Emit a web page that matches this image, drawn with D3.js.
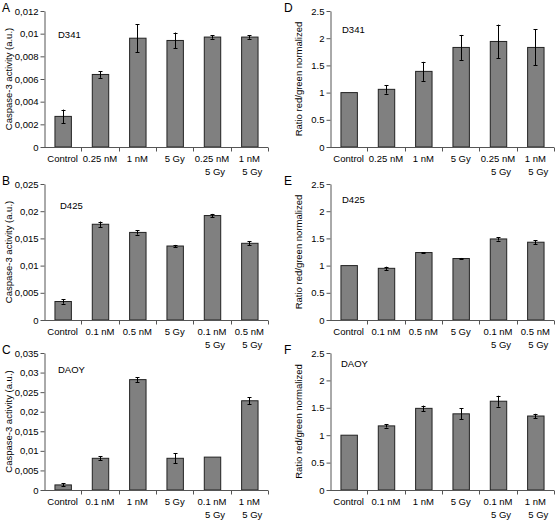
<!DOCTYPE html>
<html><head><meta charset="utf-8">
<script src="https://cdn.jsdelivr.net/npm/d3@7"></script>
<style>body{margin:0;background:#fff}svg{display:block}text{font-family:"Liberation Sans",Arial,sans-serif;fill:#000}</style>
</head><body><svg id="c" width="555" height="520"></svg>
<script>
// ---- data ----
const catsA = ["Control", "0.25 nM", "1 nM", "5 Gy", "0.25 nM|5 Gy", "1 nM|5 Gy"];
const valsA = [0.0027, 0.0064, 0.0096, 0.0094, 0.0097, 0.0097];
const errsA = [0.0006, 0.0003, 0.00125, 0.0007, 0.00015, 0.00015];
const ticksA = [0, 0.002, 0.004, 0.006, 0.008, 0.01, 0.012];

const catsB = ["Control", "0.1 nM", "0.5 nM", "5 Gy", "0.1 nM|5 Gy", "0.5 nM|5 Gy"];
const valsB = [0.0034, 0.0176, 0.0161, 0.0136, 0.0192, 0.0141];
const errsB = [0.0004, 0.0005, 0.0004, 0.0002, 0.0003, 0.0004];
const ticksB = [0, 0.005, 0.01, 0.015, 0.02, 0.025];

const catsC = ["Control", "0.1 nM", "1 nM", "5 Gy", "0.1 nM|5 Gy", "1 nM|5 Gy"];
const valsC = [0.0013, 0.0081, 0.0282, 0.0081, 0.0084, 0.0228];
const errsC = [0.0004, 0.0005, 0.0006, 0.0013, 0, 0.0009];
const ticksC = [0, 0.005, 0.01, 0.015, 0.02, 0.025, 0.03, 0.035];

const catsD = ["Control", "0.25 nM", "1 nM", "5 Gy", "0.25 nM|5 Gy", "1 nM|5 Gy"];
const valsD = [1.0, 1.06, 1.39, 1.83, 1.94, 1.83];
const errsD = [0, 0.08, 0.175, 0.23, 0.31, 0.33];

const catsE = ["Control", "0.1 nM", "0.5 nM", "5 Gy", "0.1 nM|5 Gy", "0.5 nM|5 Gy"];
const valsE = [1.0, 0.95, 1.24, 1.13, 1.49, 1.43];
const errsE = [0, 0.03, 0.01, 0.01, 0.03, 0.04];

const catsF = ["Control", "0.1 nM", "1 nM", "5 Gy", "0.1 nM|5 Gy", "1 nM|5 Gy"];
const valsF = [1.0, 1.17, 1.49, 1.39, 1.62, 1.35];
const errsF = [0, 0.03, 0.05, 0.1, 0.1, 0.04];

const ticksRatio = [0, 0.5, 1, 1.5, 2, 2.5];

const panelLetters = ["A", "B", "C", "D", "E", "F"];
const cellLines = ["D341", "D425", "DAOY", "D341", "D425", "DAOY"];
const yTitles = ["Caspase-3 activity (a.u.)", "Ratio red/green normalized"];

// ---- layout ----
const svg = d3.select("#c");
const cols = [{x0: 44, x1: 268, titleX: 9, letterX: 2}, {x0: 330, x1: 554, titleX: 299, letterX: 284}];
const rows = [{top: 11, bottom: 147, letterY: 12}, {top: 184, bottom: 320, letterY: 185}, {top: 353, bottom: 490, letterY: 354}];
const cellOffsets = [[14, 24], [16, 22], [14, 17], [12, 19], [12, 16], [11, 11]];

const panels = [
  {cats: catsA, vals: valsA, errs: errsA, ticks: ticksA, comma: true},
  {cats: catsB, vals: valsB, errs: errsB, ticks: ticksB, comma: true},
  {cats: catsC, vals: valsC, errs: errsC, ticks: ticksC, comma: true},
  {cats: catsD, vals: valsD, errs: errsD, ticks: ticksRatio, comma: false},
  {cats: catsE, vals: valsE, errs: errsE, ticks: ticksRatio, comma: false},
  {cats: catsF, vals: valsF, errs: errsF, ticks: ticksRatio, comma: false}
];

const axisColor = "#555";
panels.forEach((p, i) => {
  const col = cols[Math.floor(i / 3)], row = rows[i % 3];
  const g = svg.append("g");
  const x = d3.scaleBand().domain(p.cats).range([col.x0, col.x1]).paddingInner(0.56).paddingOuter(0.28);
  const xb = d3.scaleBand().domain(p.cats).range([col.x0, col.x1]);
  const y = d3.scaleLinear().domain([0, d3.max(p.ticks)]).range([row.bottom, row.top]);

  // bars
  g.selectAll("rect.bar").data(p.vals).join("rect")
    .attr("x", (d, j) => x(p.cats[j]) + 0.5).attr("width", x.bandwidth())
    .attr("y", d => y(d)).attr("height", d => row.bottom - y(d))
    .attr("fill", "#808080").attr("stroke", "#222").attr("stroke-width", 1);

  // error bars
  p.vals.forEach((v, j) => {
    const e = p.errs[j];
    if (!e) return;
    const cx = Math.round(x(p.cats[j]) + x.bandwidth() / 2) + 0.5;
    g.append("line").attr("x1", cx).attr("x2", cx).attr("y1", y(v + e)).attr("y2", y(v - e)).attr("stroke", "#000");
    [v + e, v - e].forEach(t => g.append("line").attr("x1", cx - 2).attr("x2", cx + 2).attr("y1", Math.round(y(t)) + 0.5).attr("y2", Math.round(y(t)) + 0.5).attr("stroke", "#000"));
  });

  // y axis
  const fmt = t => { let s = String(+t.toFixed(4)); return p.comma ? s.replace(".", ",") : s; };
  const ya = g.append("g").attr("transform", `translate(${col.x0 + 0.5},0)`)
    .call(d3.axisLeft(y).tickValues(p.ticks).tickFormat(fmt).tickSize(4).tickSizeOuter(0));
  ya.select(".domain").attr("stroke", axisColor);
  ya.selectAll(".tick line").attr("stroke", axisColor);
  ya.selectAll(".tick text").attr("font-size", 9.5).attr("font-family", "Liberation Sans, Arial, sans-serif").attr("x", -6);

  // x axis
  const xa = g.append("g").attr("transform", `translate(0,${row.bottom + 0.5})`);
  xa.append("line").attr("x1", col.x0).attr("x2", col.x1).attr("stroke", axisColor);
  p.cats.forEach((c, j) => {
    const bx = Math.round(xb(c) + xb.bandwidth()) + 0.5;
    xa.append("line").attr("x1", bx).attr("x2", bx).attr("y1", 0).attr("y2", 4).attr("stroke", axisColor);
    const lines = c.split("|");
    const t = xa.append("text").attr("font-size", 9.5).attr("text-anchor", "middle")
      .attr("x", xb(c) + xb.bandwidth() / 2).attr("y", 14);
    lines.forEach((l, k) => t.append("tspan").attr("x", xb(c) + xb.bandwidth() / 2 + (k > 0 ? 3 : 0)).attr("dy", k ? 13 : 0).text(l));
  });

  // y title
  svg.append("text").attr("font-size", 9.5).attr("text-anchor", "middle")
    .attr("transform", `translate(${col.titleX},${(row.top + row.bottom) / 2}) rotate(-90)`)
    .attr("dy", "0.35em").text(yTitles[Math.floor(i / 3)]);

  // panel letter
  svg.append("text").attr("font-size", 12).attr("x", col.letterX).attr("y", row.letterY).text(panelLetters[i]);

  // cell line label
  svg.append("text").attr("font-size", 9.5).attr("x", col.x0 + cellOffsets[i][0]).attr("y", row.top + cellOffsets[i][1] + 3).text(cellLines[i]);
});
</script></body></html>
